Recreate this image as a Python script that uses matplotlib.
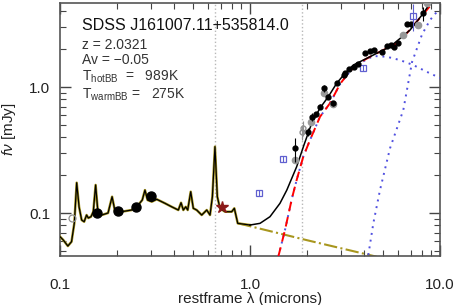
import numpy as np
import matplotlib
matplotlib.use("Agg")
import matplotlib.pyplot as plt
from matplotlib.ticker import FixedLocator, NullFormatter

plt.rcParams['font.family'] = ['Liberation Sans', 'DejaVu Sans']
plt.rcParams['mathtext.fontset'] = 'custom'
plt.rcParams['mathtext.rm'] = 'Liberation Sans'
plt.rcParams['mathtext.it'] = 'Liberation Sans:italic'

# quasar template + total model (microns, mJy)
spec_lam = [0.100, 0.104, 0.110, 0.115, 0.119, 0.1224, 0.126, 0.130, 0.134, 0.138,
            0.141, 0.1456, 0.1497, 0.154, 0.158, 0.1658, 0.179, 0.188, 0.195, 0.211,
            0.238, 0.258, 0.271, 0.280, 0.289, 0.304, 0.323, 0.357, 0.3873, 0.4196,
            0.4335, 0.4457, 0.459, 0.470, 0.4875, 0.503, 0.524, 0.557, 0.592, 0.616,
            0.634, 0.654, 0.673, 0.695, 0.739, 0.801, 0.827, 0.862, 0.941, 1.0]
spec_f = [0.0649, 0.0611, 0.0547, 0.0592, 0.0833, 0.174, 0.112, 0.088, 0.0853, 0.0964,
          0.0913, 0.0935, 0.1024, 0.167, 0.1056, 0.0964, 0.100, 0.1347, 0.1024, 0.1024,
          0.1056, 0.1157, 0.1268, 0.152, 0.1268, 0.123, 0.1285, 0.1194, 0.112, 0.1056,
          0.1207, 0.1056, 0.112, 0.1056, 0.1476, 0.109, 0.1056, 0.0964, 0.1056, 0.0964,
          0.1347, 0.336, 0.1347, 0.109, 0.1024, 0.1024, 0.109, 0.0828, 0.0813, 0.0803]

total_lam = [1.0, 1.129, 1.274, 1.438, 1.562, 1.76, 1.923, 2.112, 2.336, 2.583, 2.858,
             3.162, 3.498, 3.948, 4.64, 5.455, 6.39, 6.95, 8.17, 8.86]
total_f = [0.0803, 0.0828, 0.0935, 0.1194, 0.152, 0.233, 0.3465, 0.515, 0.681, 0.838,
           1.07, 1.284, 1.495, 1.637, 1.85, 2.09, 2.54, 2.83, 3.846, 4.62]

# hot + warm blackbody sum
bbsum_lam = [1.409, 1.528, 1.664, 1.76, 1.907, 2.069, 2.336, 2.636, 2.976, 3.36, 3.79,
             4.457, 5.244, 5.92, 6.68, 7.54, 8.51, 9.41]
bbsum_f = [0.045, 0.0733, 0.1315, 0.1827, 0.28, 0.3797, 0.581, 0.743, 1.056, 1.34, 1.57,
           1.795, 2.028, 2.222, 2.668, 3.3, 4.08, 4.9]

# hot blackbody (989 K)
hot_lam = [1.409, 1.528, 1.664, 1.76, 1.907, 2.069, 2.336, 2.636, 2.976, 3.36, 3.79,
           4.457, 5.244, 6.15, 7.23, 8.51, 10.0]
hot_f = [0.045, 0.0733, 0.1315, 0.1827, 0.28, 0.3797, 0.581, 0.743, 1.056, 1.33, 1.55,
         1.762, 1.74, 1.637, 1.495, 1.322, 1.179]

# warm blackbody (275 K)
warm_lam = [4.195, 4.457, 4.832, 5.455, 6.41, 7.125, 8.04, 8.86, 9.8]
warm_f = [0.0464, 0.0828, 0.152, 0.326, 0.657, 1.579, 2.61, 3.4, 4.08]

# power-law continuum extension
pl_lam = [0.868, 2.0, 4.64]
pl_f = [0.0828, 0.0608, 0.045]

# photometry
uv_lam = [0.156, 0.203, 0.250, 0.300]
uv_f = [0.1006, 0.1037, 0.112, 0.1372]
galex_lam = [0.115]
galex_f = [0.0918]
star_lam = [0.715]
star_f = [0.112]
sq_lam = [1.119, 1.497, 3.948, 7.23]
sq_f = [0.1433, 0.2668, 1.423, 3.66]
sq_err = [0.008, 0.015, 0.08, 0.9]

irs_lam = [1.725, 2.013, 2.112, 2.217, 2.336, 2.453, 2.583, 2.724, 2.858, 3.124, 3.162,
           3.332, 3.524, 3.715, 4.028, 4.282, 4.494, 4.933, 5.244, 5.502, 5.727, 6.03,
           6.68, 7.01, 8.11]
irs_f = [0.326, 0.4418, 0.581, 0.607, 0.698, 0.976, 0.838, 0.743, 1.07, 1.245, 1.284,
         1.382, 1.449, 1.522, 1.851, 1.931, 1.967, 1.906, 2.127, 2.154, 2.089, 2.222,
         3.162, 3.162, 3.846]
irs_err = [0.07, 0.03, 0.04, 0.03, 0.03, 0.06, 0.04, 0.03, 0.04, 0.05, 0.05,
           0.05, 0.05, 0.05, 0.06, 0.06, 0.06, 0.06, 0.07, 0.07, 0.07, 0.07,
           0.1, 0.1, 0.5]

gray_lam = [1.725, 2.087, 2.453, 2.724, 6.37, 7.69, 8.58]
gray_f = [0.263, 0.531, 0.901, 0.733, 2.587, 3.105, 4.67]
ocirc_lam = [1.877, 1.907]
ocirc_f = [0.442, 0.47]
ocirc_err = [0.06, 0.065]

lines_lam = [0.656, 1.87]

fig = plt.figure(figsize=(4.58, 3.05), dpi=100)
ax = fig.add_axes([0.131, 0.1607, 0.8297, 0.8293])

for lv in lines_lam:
    ax.axvline(lv, color='#b8b8b8', ls=':', lw=1.0, zorder=1)

ax.plot(pl_lam, pl_f, color='#a8961e', ls='-.', lw=1.5, zorder=2)
ax.plot(spec_lam, spec_f, color='#a8961e', lw=1.8, zorder=3)
ax.plot(spec_lam, spec_f, color='black', lw=0.9, zorder=4)
ax.plot(total_lam, total_f, color='black', lw=1.1, zorder=4)
ax.plot(hot_lam, hot_f, color='#5050e0', ls=(0, (1, 2.5)), lw=1.4, zorder=3)
ax.plot(warm_lam, warm_f, color='#5050e0', ls=(0, (1, 2.5)), lw=1.4, zorder=3)
ax.plot(bbsum_lam, bbsum_f, color='red', ls=(0, (5, 3)), lw=1.4, zorder=3)

ax.plot(gray_lam, gray_f, 'o', color='#999999', ms=4.5, zorder=5)
ax.errorbar(ocirc_lam, ocirc_f, yerr=ocirc_err, fmt='o', mfc='none', mec='#909090',
            ecolor='#909090', ms=3.5, elinewidth=0.8, zorder=5)
ax.errorbar(irs_lam, irs_f, yerr=irs_err, fmt='o', color='black', ms=3.5,
            elinewidth=0.8, zorder=6)
ax.plot(sq_lam, sq_f, 's', mfc='white', mec='#6060d0', ms=5, mew=0.9, zorder=6)
ax.errorbar(sq_lam, sq_f, yerr=sq_err, fmt='none', ecolor='#6060d0',
            elinewidth=0.8, zorder=7)
ax.plot(uv_lam, uv_f, 'o', color='black', ms=6.5, zorder=6)
ax.plot(galex_lam, galex_f, 'o', mfc='none', mec='#909090', ms=5, mew=0.9, zorder=6)
ax.plot(star_lam, star_f, '*', color='#8b1a1a', ms=9, zorder=6)

ax.set_xscale('log')
ax.set_yscale('log')
ax.set_xlim(0.1, 10.0)
ax.set_ylim(0.0456, 4.64)
ax.xaxis.set_major_locator(FixedLocator([0.1, 1.0, 10.0]))
ax.set_xticklabels(['0.1', '1.0', '10.0'])
ax.yaxis.set_major_locator(FixedLocator([0.1, 1.0]))
ax.set_yticklabels(['0.1', '1.0'])
ax.xaxis.set_minor_formatter(NullFormatter())
ax.yaxis.set_minor_formatter(NullFormatter())
ax.tick_params(which='both', direction='in', top=True, right=True, colors='#444444',
               labelcolor='#222222', labelsize=11)
ax.tick_params(which='major', length=8, width=1)
ax.tick_params(which='minor', length=4, width=0.8)
ax.tick_params(axis='x', pad=16)
ax.tick_params(axis='y', pad=7)
for sp in ax.spines.values():
    sp.set_color('#555555')
    sp.set_linewidth(1.2)

ax.set_xlabel('restframe λ (microns)', fontsize=11, color='#222222', labelpad=0)
ax.set_ylabel('$f\\nu$ [mJy]', fontsize=11, color='#222222', labelpad=8)

fig.text(82 / 458, 1 - 30 / 305, 'SDSS J161007.11+535814.0', fontsize=11.5,
         color='#111111', va='baseline')
info = ('z = 2.0321\nAv = −0.05\nT$_{\\rm hotBB}$  =   989K\n'
        'T$_{\\rm warmBB}$ =   275K')
fig.text(82 / 458, 1 - 38 / 305, info, fontsize=10, color='#333333',
         va='top', linespacing=1.12)

fig.savefig('out.png', dpi=100)
